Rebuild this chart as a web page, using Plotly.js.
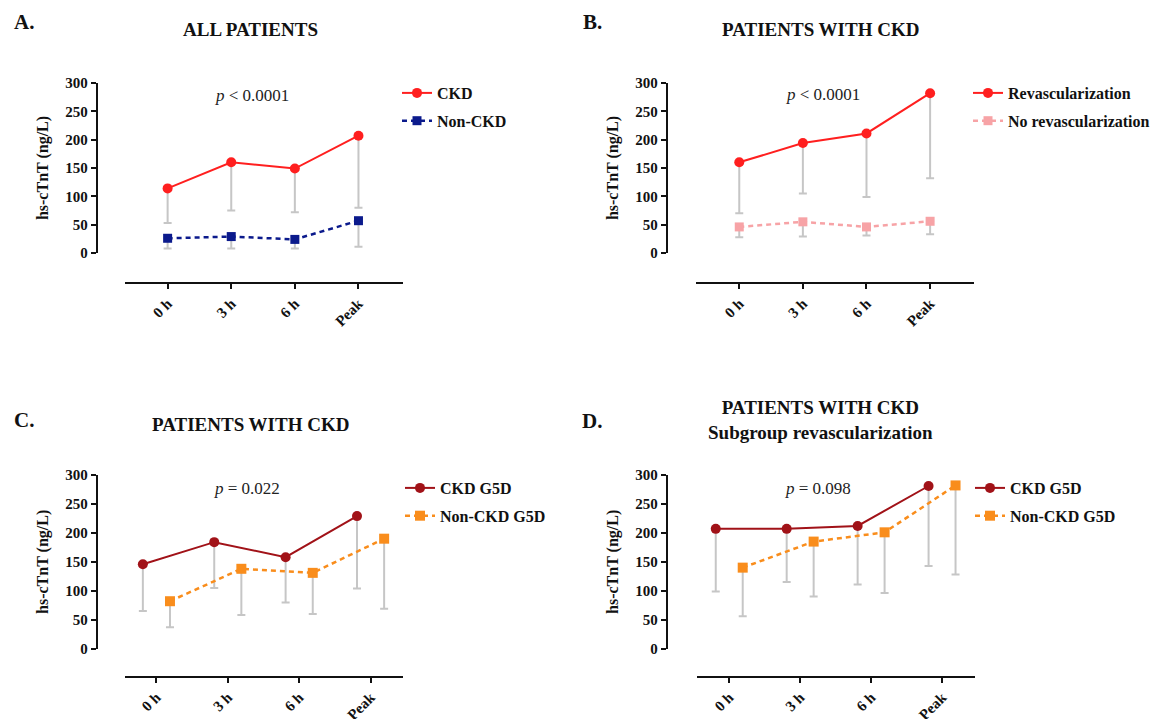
<!DOCTYPE html>
<html>
<head>
<meta charset="utf-8">
<script src="https://cdn.plot.ly/plotly-3.0.1.min.js"></script>
<style>html,body{margin:0;padding:0;background:#fff;}#chart{width:1163px;height:719px;}</style>
</head>
<body>
<div id="chart"></div>
<script>
// ---------- data ----------
const timepoints = ['0 h', '3 h', '6 h', 'Peak'];
const yTicks = [0, 50, 100, 150, 200, 250, 300];

// A. All patients
const ckdA = [114, 160, 149, 207];
const ckdALow = [53, 75, 72, 80];
const nonCkdA = [26, 29, 24, 57];
const nonCkdALow = [8, 8, 8, 11];

// B. Patients with CKD
const revascB = [160, 194, 211, 282];
const revascBLow = [70, 105, 99, 132];
const noRevascB = [46, 55, 46, 56];
const noRevascBLow = [28, 29, 31, 33];

// C. Patients with CKD
const g5dC = [146, 184, 158, 229];
const g5dCLow = [65, 105, 80, 104];
const nonG5dC = [82, 138, 131, 190];
const nonG5dCLow = [37, 58, 60, 69];

// D. Patients with CKD, subgroup revascularization
const g5dD = [207, 207, 212, 281];
const g5dDLow = [99, 115, 111, 143];
const nonG5dD = [140, 185, 201, 282];
const nonG5dDLow = [56, 90, 96, 128];

// ---------- styling / layout ----------
const W = 1163, H = 719;
const px = v => v / W;
const py = v => 1 - v / H;
const FONT = 'Liberation Serif, Times New Roman, Times, serif';
const INK = '#111111';
const GRAY = '#c6c6c6';

const idx = timepoints.map((_, i) => i);
const shift = (o) => idx.map(i => i + o);
const minus = (m, lo) => m.map((v, i) => v - lo[i]);
const zeros = idx.map(() => 0);

function trace(name, xs, ys, lows, color, symbol, size, dash, ax, leg, grp) {
  return {
    type: 'scatter', mode: 'lines+markers', name: name,
    x: xs, y: ys, xaxis: 'x' + ax, yaxis: 'y' + ax,
    legend: leg, legendgroup: grp,
    line: {color: color, width: dash === 'solid' ? 2 : 2.5, dash: dash},
    marker: {color: color, symbol: symbol, size: size},
    error_y: {type: 'data', symmetric: false, array: zeros, arrayminus: minus(ys, lows),
              color: GRAY, thickness: 2, width: 4},
    cliponaxis: false, hoverinfo: 'x+y'
  };
}
const DASH = '5px,4px';
const data = [
  trace('CKD', shift(0), ckdA, ckdALow, '#ff1f1f', 'circle', 10, 'solid', '', 'legend', 'a1'),
  trace('Non-CKD', shift(0), nonCkdA, nonCkdALow, '#0b1a8c', 'square', 9, DASH, '', 'legend', 'a2'),
  trace('Revascularization', shift(0), revascB, revascBLow, '#ff1f1f', 'circle', 10, 'solid', '2', 'legend2', 'b1'),
  trace('No revascularization', shift(0), noRevascB, noRevascBLow, '#f7a3a6', 'square', 9, DASH, '2', 'legend2', 'b2'),
  trace('CKD G5D', shift(-0.19), g5dC, g5dCLow, '#a11218', 'circle', 10, 'solid', '3', 'legend3', 'c1'),
  trace('Non-CKD G5D', shift(0.19), nonG5dC, nonG5dCLow, '#f98d1c', 'square', 10, DASH, '3', 'legend3', 'c2'),
  trace('CKD G5D', shift(-0.19), g5dD, g5dDLow, '#a11218', 'circle', 10, 'solid', '4', 'legend4', 'd1'),
  trace('Non-CKD G5D', shift(0.19), nonG5dD, nonG5dDLow, '#f98d1c', 'square', 10, DASH, '4', 'legend4', 'd2')
];

function xAxis(x0, x1, r, yPos) {
  return {
    domain: [px(x0), px(x1)], range: r, anchor: 'free', position: py(yPos),
    showline: true, linewidth: 2, linecolor: INK, mirror: false,
    ticks: 'outside', ticklen: 5, tickwidth: 2, tickcolor: INK,
    tickmode: 'array', tickvals: idx, ticktext: timepoints, tickangle: -45,
    tickfont: {family: FONT, size: 15, weight: 700, color: INK},
    showgrid: false, zeroline: false, fixedrange: true
  };
}
function yAxis(y0, y1, xPos) {
  return {
    domain: [py(y1), py(y0)], range: [0, 300], anchor: 'free', position: px(xPos),
    showline: true, linewidth: 2, linecolor: INK,
    ticks: 'outside', ticklen: 5, tickwidth: 2, tickcolor: INK,
    tickmode: 'array', tickvals: yTicks,
    tickfont: {family: FONT, size: 15, weight: 700, color: INK},
    showgrid: false, zeroline: false, fixedrange: true,
    title: {text: 'hs-cTnT (ng/L)', font: {family: FONT, size: 16, weight: 700, color: INK}, standoff: 12}
  };
}
function legend(x, yTop) {
  return {
    x: px(x), y: py(yTop), xanchor: 'left', yanchor: 'top',
    font: {family: FONT, size: 16, weight: 700, color: INK},
    bgcolor: 'rgba(0,0,0,0)', borderwidth: 0,
    traceorder: 'grouped', tracegroupgap: 4, itemwidth: 30
  };
}
function ann(text, x, y, size, weight, color) {
  return {text: text, xref: 'paper', yref: 'paper', x: px(x), y: py(y),
          xanchor: 'center', yanchor: 'middle', showarrow: false,
          font: {family: FONT, size: size, weight: weight, color: color || INK}};
}

const layout = {
  width: W, height: H, margin: {l: 0, r: 0, t: 0, b: 0},
  paper_bgcolor: '#ffffff', plot_bgcolor: 'rgba(0,0,0,0)',
  showlegend: true,
  xaxis: xAxis(125, 403, [-0.67, 3.70], 283),
  yaxis: yAxis(83, 253, 96.7),
  xaxis2: xAxis(696, 974, [-0.68, 3.69], 283),
  yaxis2: yAxis(83, 253, 666.7),
  xaxis3: xAxis(125, 402.7, [-0.44, 3.45], 676.7),
  yaxis3: yAxis(475, 648.7, 96.7),
  xaxis4: xAxis(697.3, 974.7, [-0.45, 3.46], 676.7),
  yaxis4: yAxis(475, 648.7, 666.7),
  legend: legend(397, 76),
  legend2: legend(968, 76),
  legend3: legend(400, 471),
  legend4: legend(970, 471),
  annotations: [
    ann('A.', 24, 22, 21, 700),
    ann('B.', 592, 22, 21, 700),
    ann('C.', 24, 420, 21, 700),
    ann('D.', 592, 421, 21, 700),
    ann('ALL PATIENTS', 250, 29.5, 19, 700),
    ann('PATIENTS WITH CKD', 820, 30, 19, 700),
    ann('PATIENTS WITH CKD', 250, 424, 19, 700),
    ann('PATIENTS WITH CKD<br>Subgroup revascularization', 820, 420, 19, 700),
    ann('<i>p</i> < 0.0001', 252, 95, 17, 400, '#222222'),
    ann('<i>p</i> < 0.0001', 823, 94, 17, 400, '#222222'),
    ann('<i>p</i> = 0.022', 247, 489, 17, 400, '#222222'),
    ann('<i>p</i> = 0.098', 818, 489, 17, 400, '#222222')
  ]
};

Plotly.newPlot('chart', data, layout, {displayModeBar: false, staticPlot: false, responsive: false});
</script>
</body>
</html>
